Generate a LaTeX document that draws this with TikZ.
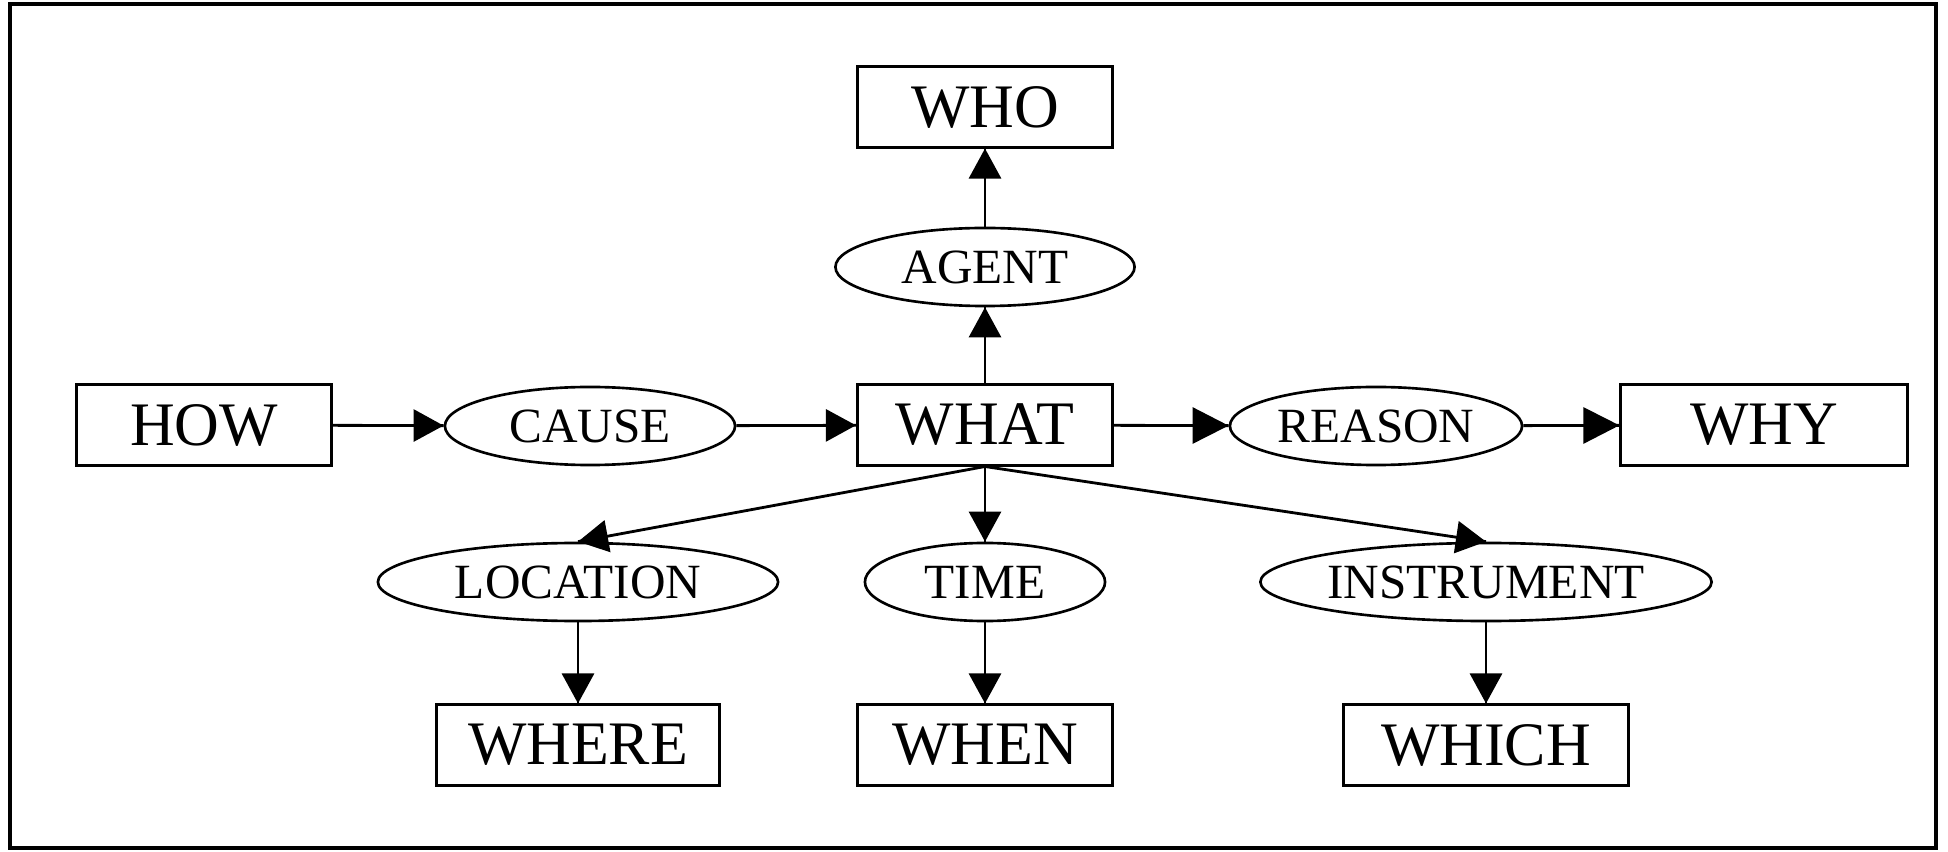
\documentclass[tikz,border=0pt]{standalone}
\usepackage{fontspec}
\setmainfont{Liberation Serif}
\usetikzlibrary{arrows.meta}
\usetikzlibrary{decorations.markings}
\usetikzlibrary{shapes.geometric}
\tikzset{->/.style = {decoration={markings,
                                  mark=at position 1 with {\arrow{Triangle[length=3mm,width=3.2mm]}}},
                      postaction={decorate}}}
\tikzset{bigarrow/.style = {decoration={markings,
                                  mark=at position 1 with {\arrow{Triangle[length=3.6mm,width=3.6mm]}}},
                      postaction={decorate}}}
\tikzset{box/.style = {draw, rectangle, line width=0.85pt, minimum width=2.55cm, minimum height=0.8cm,
                       inner sep=0, font=\fontsize{17.6}{17.6}\selectfont}}
\tikzset{oval/.style = {draw, ellipse, line width=0.75pt, minimum height=0.78cm,
                        inner sep=0, font=\fontsize{14}{14}\selectfont}}

\begin{document}
\begin{tikzpicture}[x=0.01cm, y=-0.01cm, line width=0.8pt]
      \useasboundingbox (0, 0) rectangle (1948, 852);
      \draw [line width=1pt] (10, 4) rectangle (1936, 848);

      \node [box] (who) at (985, 107) {WHO};
      \node [oval, minimum width=2.99cm] (agent) at (985, 267) {AGENT};

      \node [box] (how) at (204, 425) {HOW};
      \node [oval, minimum width=2.9cm] (cause) at (590, 426) {CAUSE};
      \node [box] (what) at (985, 425) {WHAT};
      \node [oval, minimum width=2.92cm] (reason) at (1376, 426) {REASON};
      \node [box, minimum width=2.86cm] (why) at (1764, 425) {WHY};

      \node [oval, minimum width=4cm] (location) at (578, 582) {LOCATION};
      \node [oval, minimum width=2.4cm] (time) at (985, 582) {TIME};
      \node [oval, minimum width=4.51cm] (instrument) at (1486, 582) {INSTRUMENT};

      \node [box, minimum width=2.83cm] (where) at (578, 745) {WHERE};
      \node [box] (when) at (985, 745) {WHEN};
      \node [box, minimum width=2.85cm] (which) at (1486, 745) {WHICH};

      \draw [->] (what) -- (agent);
      \draw [->] (agent) -- (who);
      \draw [->] (how) -- (cause);
      \draw [->] (cause) -- (what);
      \draw [bigarrow] (what) -- (reason);
      \draw [bigarrow] (reason) -- (why);
      \draw [->] (what.south) -- (location.north);
      \draw [->] (what.south) -- (time);
      \draw [->] (what.south) -- (instrument.north);
      \draw [->] (location) -- (where);
      \draw [->] (time) -- (when);
      \draw [->] (instrument) -- (which);
    \end{tikzpicture}
\end{document}
